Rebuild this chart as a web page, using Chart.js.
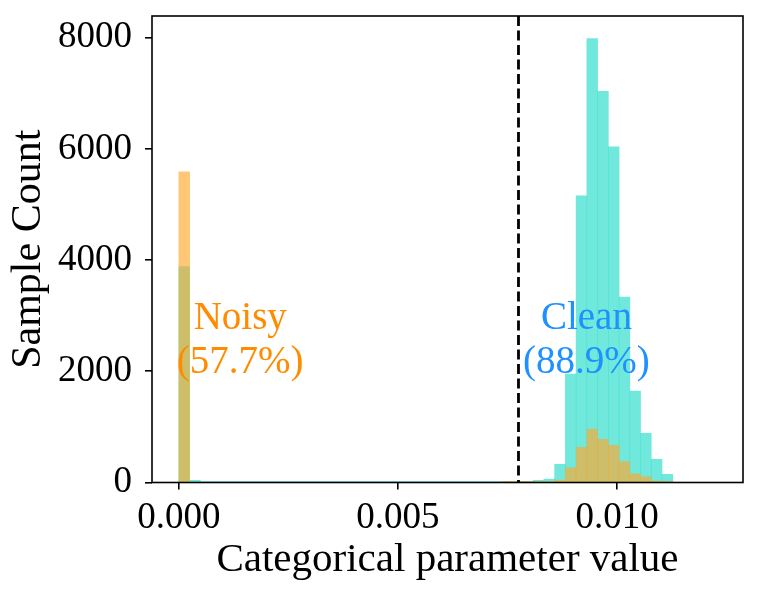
<!DOCTYPE html>
<html>
<head>
<meta charset="utf-8">
<script src="https://cdn.jsdelivr.net/npm/chart.js@4.4.1/dist/chart.umd.min.js"></script>
<style>
    html, body { margin: 0; padding: 0; background: #fff; }
    #wrap { width: 760px; height: 597px; }
</style>
</head>
<body>
<div id="wrap"><canvas id="canvasSingle" width="760" height="597"></canvas></div>
<script>
// histogram bins (shared by both series)
const BIN_MIN = 0.0;
const BIN_WIDTH = 0.000245;

// sample counts per bin
const cleanCounts = [3882, 40, 10, 4, 3, 2, 2, 1, 1, 1, 1, 1, 1, 1, 1, 1, 1, 1, 1, 2,
    2, 2, 3, 3, 4, 4, 5, 5, 6, 8, 12, 15, 22, 40, 63, 327, 1952, 5154, 7984, 7037,
    6036, 3337, 1646, 885, 417, 148, 0, 0, 0, 0];
const noisyCounts = [5586, 0, 0, 0, 0, 0, 0, 0, 0, 0, 0, 0, 0, 0, 0, 0, 0, 0, 0, 0,
    0, 0, 0, 0, 0, 0, 0, 0, 0, 0, 1, 1, 2, 3, 6, 45, 266, 633, 957, 777,
    669, 374, 158, 100, 27, 8, 0, 0, 0, 0];

const threshold = 0.00775;
const xTicks = [0.000, 0.005, 0.010];
const yTicks = [0, 2000, 4000, 6000, 8000];

// annotation texts: [line1, line2, x position, colour]
const labels = [
    ['Noisy', '(57.7%)', 0.00140, 'rgb(255,140,0)'],
    ['Clean', '(88.9%)', 0.00930, 'rgb(30,144,255)']
];
const labelY = [2940, 2150];

const binCenters = cleanCounts.map((_, i) => BIN_MIN + (i + 0.5) * BIN_WIDTH);
const FONT = "'Liberation Serif', 'Times New Roman', serif";

const overlay = {
    id: 'overlay',
    afterDatasetsDraw(chart) {
        const { ctx, chartArea: a, scales: { x, y } } = chart;
        ctx.save();
        // threshold
        const px = x.getPixelForValue(threshold);
        ctx.strokeStyle = '#000';
        ctx.lineWidth = 2.8;
        ctx.setLineDash([10, 4.5]);
        ctx.beginPath();
        ctx.moveTo(px, a.top);
        ctx.lineTo(px, a.bottom);
        ctx.stroke();
        ctx.setLineDash([]);
        // text
        ctx.font = '39px ' + FONT;
        ctx.textAlign = 'center';
        ctx.textBaseline = 'middle';
        labels.forEach(l => {
            ctx.fillStyle = l[3];
            ctx.fillText(l[0], x.getPixelForValue(l[2]), y.getPixelForValue(labelY[0]));
            ctx.fillText(l[1], x.getPixelForValue(l[2]), y.getPixelForValue(labelY[1]));
        });
        // frame
        ctx.strokeStyle = '#000';
        ctx.lineWidth = 1.6;
        ctx.strokeRect(a.left, a.top, a.right - a.left, a.bottom - a.top);
        ctx.restore();
    }
};

let config = {
    type: 'bar',
    data: {
        datasets: [{
            label: 'Noisy',
            data: binCenters.map((c, i) => ({ x: c, y: noisyCounts[i] })),
            backgroundColor: 'rgba(255,168,45,0.66)',
            order: 0
        }, {
            label: 'Clean',
            data: binCenters.map((c, i) => ({ x: c, y: cleanCounts[i] })),
            backgroundColor: 'rgba(64,224,208,0.75)',
            order: 1
        }]
    },
    options: {
        responsive: false,
        animation: false,
        layout: { padding: { top: 16, right: 17, left: 0, bottom: 0 } },
        datasets: {
            bar: { grouped: false, barPercentage: 1, categoryPercentage: 1, borderWidth: 0 }
        },
        plugins: {
            legend: { display: false },
            tooltip: { enabled: false }
        },
        scales: {
            x: {
                type: 'linear',
                offset: false,
                min: -0.000613,
                max: 0.012873,
                afterBuildTicks: s => { s.ticks = xTicks.map(v => ({ value: v })); },
                afterFit: s => { s.height = 114.5; s.paddingLeft = 0; s.paddingRight = 0; },
                grid: { offset: false, drawOnChartArea: false, drawTicks: true, tickLength: 7, color: '#000', lineWidth: 1.6 },
                border: { display: false },
                ticks: {
                    color: '#000',
                    padding: 7,
                    maxRotation: 0,
                    font: { family: FONT, size: 37 },
                    callback: v => v.toFixed(3)
                },
                title: {
                    display: true,
                    text: 'Categorical parameter value',
                    color: '#000',
                    font: { family: FONT, size: 41 },
                    padding: { top: 0, bottom: 12 }
                }
            },
            y: {
                min: 0,
                max: 8390,
                afterBuildTicks: s => { s.ticks = yTicks.map(v => ({ value: v })); },
                afterFit: s => { s.width = 152; s.paddingTop = 0; s.paddingBottom = 0; },
                grid: { drawOnChartArea: false, drawTicks: true, tickLength: 7, color: '#000', lineWidth: 1.6 },
                border: { display: false },
                ticks: {
                    color: '#000',
                    padding: 13,
                    font: { family: FONT, size: 37 },
                    callback: v => String(v)
                },
                title: {
                    display: true,
                    text: 'Sample Count',
                    color: '#000',
                    font: { family: FONT, size: 42 },
                    padding: { top: 4, bottom: 0 }
                }
            }
        }
    },
    plugins: [overlay]
};

document.addEventListener('DOMContentLoaded', function () {
    new Chart(document.getElementById('canvasSingle'), config);
});
</script>
</body>
</html>
